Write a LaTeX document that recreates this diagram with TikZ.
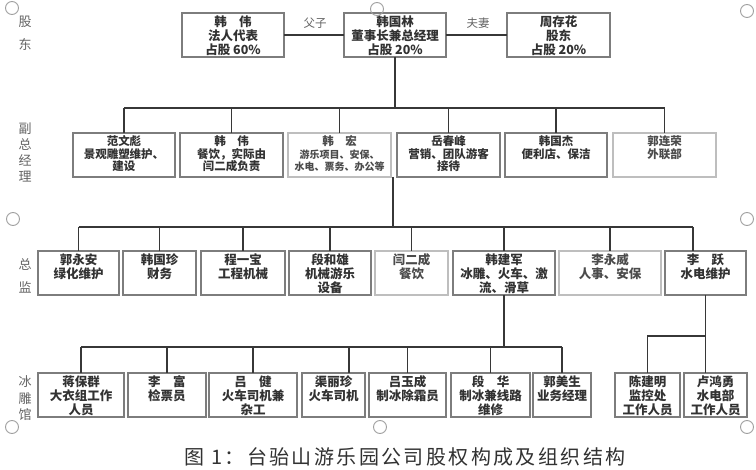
\documentclass[tikz,border=0pt]{standalone}
\usepackage{fontspec}
\setmainfont{Noto Sans CJK SC}
\usetikzlibrary{calc}
\definecolor{bordc}{RGB}{125,125,125}
\definecolor{lbordc}{RGB}{190,190,190}
\definecolor{linec}{RGB}{55,55,55}
\definecolor{txtc}{RGB}{50,50,50}
\definecolor{ltxtc}{RGB}{75,75,75}
\definecolor{lblc}{RGB}{100,100,100}
\definecolor{circc}{RGB}{160,160,160}
\newcommand\btx[4]{\parbox[c][44pt][t]{#1pt}{\centering\fontsize{#2}{#3}\selectfont\bfseries\vspace*{3pt}#4\par}}
\newcommand\bt[2]{\btx{#1}{12.5}{14}{#2}}
\newcommand\bs[2]{\btx{#1}{11.5}{12.5}{#2}}
\begin{document}
\begin{tikzpicture}[x=1pt,y=-1pt,
  box/.style={draw=bordc,line width=1.1pt,inner sep=0pt,outer sep=0pt,text=txtc},
  lbox/.style={box,draw=lbordc,text=ltxtc},
  conn/.style={draw=linec,line width=1.5pt},
  lbl/.style={text=lblc,inner sep=0pt,align=center},
  rel/.style={text=lblc,font=\fontsize{11.5}{13}\selectfont,inner sep=0pt},
  anchorc/.style={draw=circc,line width=0.9pt,circle,minimum size=13pt,inner sep=0pt}]
\useasboundingbox (0,0) rectangle (756,470);
\fill[white] (0,0) rectangle (756,470);

% left labels
\node[lbl,font=\fontsize{13}{23}\selectfont] (l1) at (25,33.5) {股\\东};
\node[lbl,font=\fontsize{13}{16}\selectfont] (l2) at (25,152) {副\\总\\经\\理};
\node[lbl,font=\fontsize{13}{23}\selectfont] (l3) at (25,275.5) {总\\监};
\node[lbl,font=\fontsize{13}{16.5}\selectfont] (l4) at (25,398.5) {冰\\雕\\馆};

% row 1
\node[box] (hw1) at (233,35) {\bt{102}{韩\hspace{1em}伟\\法人代表\\占股 60\%}};
\node[box] (hgl) at (395,35) {\bt{102}{韩国林\\董事长兼总经理\\占股 20\%}};
\node[box] (zch) at (558.5,35) {\bt{103}{周存花\\股东\\占股 20\%}};
\draw[conn] (hw1.east) -- (hgl.west);
\draw[conn] (hgl.east) -- (zch.west);
\node[rel] (fz) at (315,23) {父子};
\node[rel] (fq) at (478,23) {夫妻};

% row 2
\node[box]  (fwb) at (124,155)   {\bs{102}{范文彪\\景观雕塑维护、\\建设}};
\node[box]  (hw2) at (231.5,155) {\bs{103}{韩\hspace{1em}伟\\餐饮，实际由\\闫二成负责}};
\node[lbox] (hh)  at (339.5,155) {\btx{103}{11.5}{12.5}{韩\hspace{1em}宏\\\fontsize{10}{12.5}\selectfont 游乐项目、安保、\\水电、票务、办公等}};
\node[box]  (ycf) at (448.5,155) {\bs{103}{岳春峰\\营销、团队游客\\接待}};
\node[box]  (hgj) at (556,155)   {\bs{102}{韩国杰\\便利店、保洁}};
\node[lbox] (glr) at (664.5,155) {\bs{103}{郭连荣\\外联部}};

% row 3
\node[box]  (gya) at (78.5,273)  {\bt{81}{郭永安\\绿化维护}};
\node[box]  (hgz) at (159.5,273) {\bt{73}{韩国珍\\财务}};
\node[box]  (cyb) at (243,273)   {\bt{84}{程一宝\\工程机械}};
\node[box]  (dhx) at (330,273)   {\bt{82}{段和雄\\机械游乐\\设备}};
\node[lbox] (yec) at (411.5,273) {\bt{73}{闫二成\\餐饮}};
\node[box]  (hjj) at (504,273)   {\bt{102}{韩建军\\冰雕、火车、激\\流、滑草}};
\node[lbox] (lyw) at (610,273)   {\bt{102}{李永威\\人事、安保}};
\node[box]  (ly)  at (705.5,273) {\bt{81}{李\hspace{1em}跃\\水电维护}};

% row 4
\node[box] (jbq) at (81,395)    {\bt{86}{蒋保群\\大衣组工作\\人员}};
\node[box] (lf)  at (167,395)   {\bt{78}{李\hspace{1em}富\\检票员}};
\node[box] (lj)  at (253,395)   {\bt{88}{吕\hspace{1em}健\\火车司机兼\\杂工}};
\node[box] (qlz) at (333.5,395) {\bt{63}{渠丽珍\\火车司机}};
\node[box] (lyc) at (407.5,395) {\bt{77}{吕玉成\\制冰除霜员}};
\node[box] (dh)  at (490.5,395) {\bt{79}{段\hspace{1em}华\\制冰兼线路\\维修}};
\node[box] (gms) at (562,395)   {\bt{58}{郭美生\\业务经理}};
\node[box] (cjm) at (647.5,395) {\bt{65}{陈建明\\监控处\\工作人员}};
\node[box] (lhy) at (715.5,395) {\bt{63}{卢鸿勇\\水电部\\工作人员}};

% level coordinates
\coordinate (bar1) at (0,108);
\coordinate (bar2) at (0,227);
\coordinate (bar3) at (0,347);
\coordinate (bar4) at (0,336);
\coordinate (t2) at (393,177);

% tree 1
\draw[conn] (hgl.south) -- (hgl.south |- bar1);
\draw[conn] (fwb.north |- bar1) -- (glr.north |- bar1);
\foreach \n in {fwb,hw2,hh,ycf,hgj,glr} \draw[conn] (\n.north |- bar1) -- (\n.north);

% tree 2
\draw[conn] (t2) -- (t2 |- bar2);
\draw[conn] (gya.north |- bar2) -- ([xshift=-12.5pt]ly.north |- bar2);
\foreach \n in {gya,hgz,cyb,dhx,yec,hjj,lyw} \draw[conn] (\n.north |- bar2) -- (\n.north);
\draw[conn] ([xshift=-12.5pt]ly.north |- bar2) -- ([xshift=-12.5pt]ly.north);

% tree 3
\draw[conn] (hjj.south) -- (hjj.south |- bar3);
\draw[conn] (jbq.north |- bar3) -- (gms.north |- bar3);
\foreach \n in {jbq,lf,lj,lyc,dh,gms} \draw[conn] (\n.north |- bar3) -- (\n.north);
\draw[conn] ([xshift=15.5pt]qlz.north |- bar3) -- ([xshift=15.5pt]qlz.north);

% tree 4
\draw[conn] (ly.south) -- (ly.south |- bar4) -| (cjm.north);
\draw[conn] (ly.south |- bar4) -- (ly.south |- lhy.north);

% caption
\node[text=txtc,inner sep=0pt,font=\fontsize{20}{22}\selectfont\addfontfeature{LetterSpace=12}] (cap) at (405,457) {图 1：台骀山游乐园公司股权构成及组织结构};

% anchor circles
\node[anchorc] (c1) at (12,8) {};
\node[anchorc] (c2) at (377,9) {};
\node[anchorc] (c3) at (747,11) {};
\node[anchorc] (c4) at (13,219) {};
\node[anchorc] (c5) at (747,219) {};
\node[anchorc] (c6) at (12,427) {};
\node[anchorc] (c7) at (380,427) {};
\node[anchorc] (c8) at (747,427) {};
\end{tikzpicture}
\end{document}
